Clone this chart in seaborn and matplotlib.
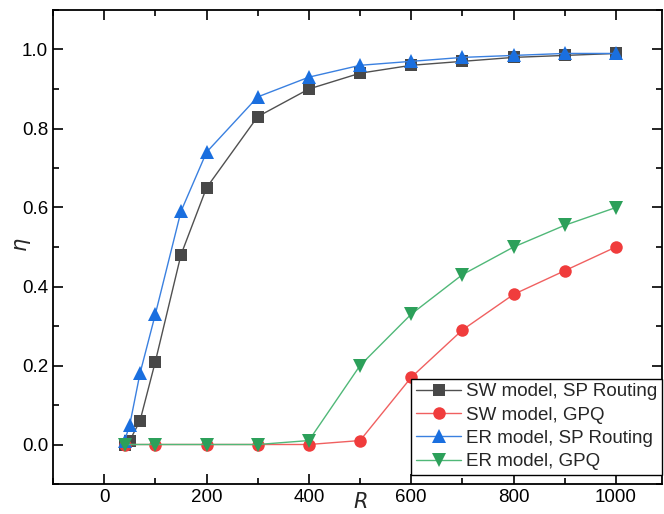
import matplotlib
matplotlib.use("Agg")
import matplotlib.pyplot as plt
import seaborn as sns
import pandas as pd
from matplotlib.ticker import MultipleLocator

sns.set_theme(style="ticks")
plt.rcParams['font.family'] = ['Liberation Sans', 'DejaVu Sans']
plt.rcParams['mathtext.fontset'] = 'dejavusans'

x_sp = [40, 50, 70, 100, 150, 200, 300, 400, 500, 600, 700, 800, 900, 1000]
sw_sp = [0.0, 0.01, 0.06, 0.21, 0.48, 0.65, 0.83, 0.90, 0.94, 0.96, 0.97, 0.98, 0.985, 0.99]
er_sp = [0.01, 0.05, 0.18, 0.33, 0.59, 0.74, 0.88, 0.93, 0.96, 0.97, 0.98, 0.985, 0.99, 0.99]
x_gpq = [40, 100, 200, 300, 400, 500, 600, 700, 800, 900, 1000]
sw_gpq = [0.0, 0.0, 0.0, 0.0, 0.0, 0.01, 0.17, 0.29, 0.38, 0.44, 0.50]
er_gpq = [0.0, 0.0, 0.0, 0.0, 0.01, 0.20, 0.33, 0.43, 0.50, 0.555, 0.60]

labels = ["SW model, SP Routing", "SW model, GPQ", "ER model, SP Routing", "ER model, GPQ"]

fig = plt.figure(figsize=(6.64, 5.14), dpi=100)
ax = fig.add_axes([53/664, 30/514, 609/664, 474/514])

series = [
    (x_sp, sw_sp, labels[0], "#484848", "#505050", "s", 8),
    (x_gpq, sw_gpq, labels[1], "#f03c3c", "#f06060", "o", 9),
    (x_sp, er_sp, labels[2], "#1a6fdf", "#3a80e0", "^", 9.5),
    (x_gpq, er_gpq, labels[3], "#2ca05a", "#50b878", "v", 9.5),
]
for xs, ys, lab, mc, lc, mk, ms in series:
    df = pd.DataFrame({"R": xs, "eta": ys})
    sns.lineplot(data=df, x="R", y="eta", ax=ax, color=lc, linewidth=1.0,
                 marker=mk, markersize=ms, markerfacecolor=mc, markeredgecolor=mc,
                 markeredgewidth=0, label=lab)

ax.set_xlim(-100, 1090)
ax.set_ylim(-0.1, 1.1)
ax.xaxis.set_major_locator(MultipleLocator(200))
ax.xaxis.set_minor_locator(MultipleLocator(100))
ax.yaxis.set_major_locator(MultipleLocator(0.2))
ax.yaxis.set_minor_locator(MultipleLocator(0.1))
ax.yaxis.set_major_formatter(matplotlib.ticker.FormatStrFormatter('%.1f'))
ax.tick_params(which='both', direction='in', top=True, right=True, labelsize=13.5, colors='black', width=1.2)
ax.tick_params(which='major', length=7)
ax.tick_params(which='minor', length=4)
for s in ax.spines.values():
    s.set_linewidth(1.3)
    s.set_color('black')

ax.set_xlabel("")
ax.set_ylabel("")
ax.text(500, -0.145, "$R$", fontsize=15, ha='center', va='center', transform=ax.transData, clip_on=False)
ax.text(-0.05, 0.505, r"$\eta$", fontsize=15, ha='center', va='center', rotation=90, transform=ax.transAxes)

leg = ax.legend(loc='lower right', bbox_to_anchor=(1.0, 9/474), fontsize=13.5, frameon=True, fancybox=False,
                edgecolor='black', framealpha=1, borderpad=0.25, labelspacing=0.33,
                handlelength=2.4, handletextpad=0.27, borderaxespad=0.0)
leg.get_frame().set_linewidth(1.0)

fig.savefig("out.png", dpi=100)
